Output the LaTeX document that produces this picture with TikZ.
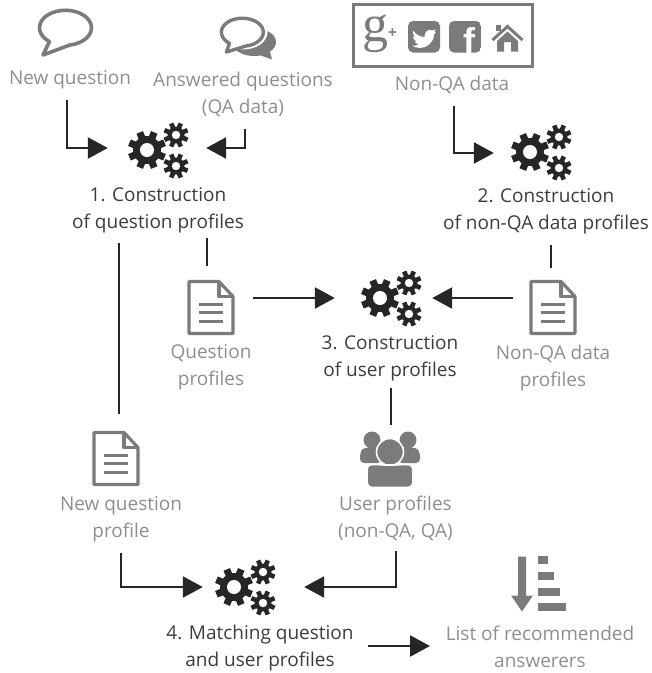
\documentclass[tikz,border=0pt]{standalone}
\usepackage{fontspec}
\setmainfont{Open Sans}
\newfontfamily\gfont{Liberation Serif}
\newfontfamily\ffont{Liberation Sans}
\usetikzlibrary{arrows.meta}
\definecolor{ink}{HTML}{262626}
\definecolor{graytext}{HTML}{8E8E8E}
\definecolor{iconcol}{HTML}{7B7B7B}
\tikzset{
  proc/.style={text=ink!90,align=center,inner sep=0pt,font=\fontsize{19}{27}\selectfont},
  data/.style={text=graytext,align=center,inner sep=0pt,font=\fontsize{19}{27}\selectfont},
  conn/.style={draw=ink,line width=2.5pt,-{Triangle[length=20pt,width=21pt]}},
  plainconn/.style={draw=ink,line width=2.5pt},
  iconbox/.style={inner sep=0pt,minimum width=#1,minimum height=54pt},
  gears/.pic={
    \foreach \cx/\cy/\rb/\rt/\tw/\rh in {-11/0/14/19/7/7,18/15/8.5/12.5/4.6/4.2,18/-16/8.5/12.5/4.6/4.2}{
      \begin{scope}[shift={(\cx,\cy)}]
        \fill[ink] (0,0) circle[radius=\rb];
        \foreach \a in {0,45,...,315}
          \draw[ink,line width=\tw pt] (\a+22.5:\rb-2) -- (\a+22.5:\rt);
        \fill[white] (0,0) circle[radius=\rh];
      \end{scope}
    }
  },
  docicon/.pic={
    \draw[iconcol,line width=3.2pt,line join=round,fill=white] (-22,-26) -- (-22,26) -- (8,26) -- (22,11) -- (22,-26) -- cycle;
    \draw[iconcol,line width=3.2pt,line join=round] (8,26) -- (8,11) -- (22,11);
    \foreach \y in {3.5,-5,-13.5}
      \draw[iconcol,line width=3pt] (-12,\y) -- (12,\y);
  },
  usersicon/.pic={
    \foreach \s in {-1,1}{
      \fill[iconcol] (\s*18,20) circle[radius=8.5];
      \fill[iconcol,rounded corners=4pt] (\s*8,12.5) -- (\s*26,12.5) -- (\s*30,8) -- (\s*30,-3) -- (\s*8,-3) -- cycle;
    }
    \fill[iconcol,draw=white,line width=1.6pt] (0,8) circle[radius=13.5];
    \fill[iconcol,draw=white,line width=1.6pt,rounded corners=5pt] (-23,-27.5) -- (-23,-12) .. controls (-22,-3) and (-10,-5) .. (0,-5) .. controls (10,-5) and (22,-3) .. (23,-12) -- (23,-27.5) -- cycle;
  },
  sorticon/.pic={
    \fill[iconcol] (-4,27) -- (4,27) -- (4,-12) -- (11,-12) -- (0,-28) -- (-11,-12) -- (-4,-12) -- cycle;
    \fill[iconcol] (16,27.5) rectangle (26,19.5);
    \fill[iconcol] (16,11.5) rectangle (32,4);
    \fill[iconcol] (16,-4.5) rectangle (38,-12);
    \fill[iconcol] (16,-19.5) rectangle (44,-27.5);
  }
}
\begin{document}
\begin{tikzpicture}[x=1pt,y=1pt]
\useasboundingbox (0,0) rectangle (652,-673);
% icons at the top
\draw[iconcol,line width=3.6pt,line join=round,fill=white]
  (70,-45) arc[start angle=-80,end angle=232,x radius=26,y radius=17.5] -- (43,-55) -- cycle;
\node[iconbox=56pt] (bubble1) at (66,-32) {};
\fill[iconcol] (254,-42) ellipse[x radius=22,y radius=14];
\fill[iconcol] (240,-48) -- (272,-59.5) -- (268,-44) -- cycle;
\draw[white,line width=7pt,fill=white] (243,-32) ellipse[x radius=21,y radius=14];
\draw[iconcol,line width=3.4pt,line join=round,fill=white]
  (246,-46) arc[start angle=-80,end angle=232,x radius=21,y radius=14] -- (226.5,-52) -- cycle;
\node[iconbox=56pt] (bubble2) at (249,-38) {};
\node[draw=iconcol,line width=3pt,minimum width=179pt,minimum height=62pt,inner sep=0pt] (social) at (443,-35.5) {};
\node[text=iconcol,inner sep=0pt,font=\gfont\fontsize{52}{52}\selectfont] (gplus) at (375,-34) {g};
\node[text=iconcol,inner sep=0pt,font=\ffont\bfseries\fontsize{15}{15}\selectfont] (plus) at (392.5,-33) {+};
\fill[iconcol,rounded corners=5pt] (408,-21) rectangle (440,-52.5);
\fill[white,shift={(424,-37)}] (-11,6.5) .. controls (-8,2) and (-3,0) .. (0.5,0) .. controls (0,5) and (5,9) .. (8,6.5) -- (11.5,7.5) -- (10,4.5) -- (12,5) -- (10,2.5) .. controls (10,-5) and (3,-11) .. (-4,-11) .. controls (-7,-11) and (-10,-10) .. (-12,-8.5) .. controls (-9,-8.5) and (-7,-9) .. (-5,-7) .. controls (-7,-7) and (-9,-6) .. (-9.5,-4.5) -- (-7.5,-4.5) .. controls (-10,-3) and (-11,-1) .. (-11,0.5) -- (-9,0) .. controls (-11,2) and (-11.5,4) .. (-11,6.5) -- cycle;
\begin{scope}
  \clip[rounded corners=5pt] (449,-21) rectangle (481,-52.5);
  \fill[iconcol] (449,-21) rectangle (481,-52.5);
  \node[text=white,inner sep=0pt,font=\ffont\bfseries\fontsize{36}{36}\selectfont,anchor=base] (fb) at (469,-53) {f};
\end{scope}
\draw[iconcol,line width=3pt,line join=miter] (492.5,-40) -- (507.5,-26.5) -- (522.5,-40);
\fill[iconcol] (507.5,-31.5) -- (518,-41) -- (518,-51.5) -- (511,-51.5) -- (511,-42) -- (504,-42) -- (504,-51.5) -- (497,-51.5) -- (497,-41) -- cycle;
\fill[iconcol] (496,-24.5) rectangle (501,-31);
% data labels
\node[data] (newq) at (70,-80) {New question};
\node[data] (ansq) at (243,-94.5) {Answered questions\\(QA data)};
\node[data] (nonqa) at (452,-85) {Non-QA data};
\node[data] (qprof) at (211,-367.5) {Question\\profiles};
\node[data] (nqprof) at (553,-368.5) {Non-QA data\\profiles};
\node[data] (newprof) at (121,-519.5) {New question\\profile};
\node[data] (uprof) at (395.5,-518.5) {User profiles\\(non-QA, QA)};
\node[data] (rec) at (540,-646.5) {List of recommended\\answerers};
% process labels
\node[proc] (t1) at (158,-210) {1. Construction\\of question profiles};
\node[proc] (t2) at (546,-211.5) {2. Construction\\of non-QA data profiles};
\node[proc] (t3) at (390,-358.5) {3. Construction\\of user profiles};
\node[proc] (t4) at (260,-648.5) {4. Matching question\\and user profiles};
% gears
\node[iconbox=60pt] (gear1) at (158,-148) {};
\pic at (158,-150) {gears};
\node[iconbox=60pt] (gear2) at (541,-153) {};
\pic at (541,-152) {gears};
\node[iconbox=60pt] (gear3) at (391,-298) {};
\pic at (391,-298) {gears};
\node[iconbox=60pt] (gear4) at (245,-587) {};
\pic at (245,-587) {gears};
% documents
\node[iconbox=46pt] (doc1) at (211,-307.5) {};
\pic at (211,-307.5) {docicon};
\node[iconbox=46pt] (doc2) at (553,-307.5) {};
\pic at (553,-307.5) {docicon};
\node[iconbox=46pt] (doc3) at (116,-458.5) {};
\pic at (116,-458.5) {docicon};
\node[iconbox=60pt] (users) at (390,-460) {};
\pic at (390,-460) {usersicon};
\node[iconbox=56pt] (sorted) at (522,-583.5) {};
\pic at (522,-583.5) {sorticon};
% free ends
\coordinate (a1) at (67,-100);
\coordinate (a2) at (245,-129);
\coordinate (a3) at (454,-106);
\coordinate (b1) at (207,-238);
\coordinate (b1e) at (207,-266);
\coordinate (b2) at (119,-243);
\coordinate (b2e) at (119,-414);
\coordinate (b3) at (551,-245);
\coordinate (b3e) at (551,-268);
\coordinate (b4) at (391,-388);
\coordinate (b4e) at (391,-425);
\coordinate (c1) at (121,-553);
\coordinate (c2) at (396,-551);
\coordinate (d1) at (368,-646);
\coordinate (d1e) at (430,-646);
% connectors
\draw[conn,shorten >=20pt] (a1) |- (gear1.west);
\draw[conn,shorten >=18pt] (a2) |- (gear1.east);
\draw[conn,shorten >=17pt] (a3) |- (gear2.west);
\draw[plainconn] (b1) -- (b1e);
\draw[plainconn] (b2) -- (b2e);
\draw[plainconn] (b3) -- (b3e);
\draw[plainconn] (b4) -- (b4e);
\draw[conn,shorten <=19pt,shorten >=26pt] (doc1.east |- gear3.west) -- (gear3.west);
\draw[conn,shorten <=17pt,shorten >=11pt] (doc2.west |- gear3.east) -- (gear3.east);
\draw[conn,shorten >=12pt] (c1) |- (gear4.west);
\draw[conn,shorten >=29pt] (c2) |- (gear4.east);
\draw[conn] (d1) -- (d1e);
\end{tikzpicture}
\end{document}
